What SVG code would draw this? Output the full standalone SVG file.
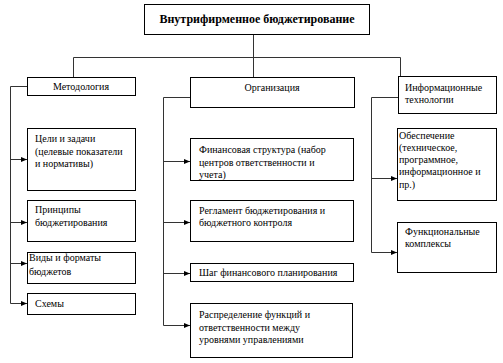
<svg xmlns="http://www.w3.org/2000/svg" width="503" height="363" viewBox="0 0 503 363">
<style>
.box{fill:#fff;stroke:#000;stroke-width:1}
.t{font-family:"Liberation Serif","Times New Roman",serif;font-size:10px;fill:#000}
.h{font-family:"Liberation Serif","Times New Roman",serif;font-size:12px;font-weight:bold;fill:#000}
.c{fill:none;stroke:#333;stroke-width:1}
</style>
<defs>
<marker id="ah" markerWidth="6" markerHeight="6" refX="6" refY="3" orient="auto" markerUnits="userSpaceOnUse">
<path d="M0,0.5 L6,3 L0,5.5 Z" fill="#000"/>
</marker>
</defs>
<g id="connectors">
<path class="c" d="M253.5,34 V57.5 M73.5,57.5 H400.5 M73.5,57.5 V77 M253.5,57.5 V77 M400.5,57.5 V76"/>
<path class="c" d="M27,86.5 H10.5 V303.5"/>
<path class="c" d="M10.5,159.5 H27" marker-end="url(#ah)"/>
<path class="c" d="M10.5,222.5 H27" marker-end="url(#ah)"/>
<path class="c" d="M10.5,263.5 H27" marker-end="url(#ah)"/>
<path class="c" d="M10.5,303.5 H27" marker-end="url(#ah)"/>
<path class="c" d="M190,97.5 H163.5 V325.5"/>
<path class="c" d="M163.5,161.5 H190" marker-end="url(#ah)"/>
<path class="c" d="M163.5,222.5 H190" marker-end="url(#ah)"/>
<path class="c" d="M163.5,273.5 H190" marker-end="url(#ah)"/>
<path class="c" d="M163.5,325.5 H190" marker-end="url(#ah)"/>
<path class="c" d="M398,97.5 H371.5 V252.5"/>
<path class="c" d="M371.5,178.5 H397" marker-end="url(#ah)"/>
<path class="c" d="M371.5,252.5 H397" marker-end="url(#ah)"/>
</g>
<g id="root">
<rect class="box" x="144.5" y="4.5" width="225" height="30"/>
<text class="h" x="257" y="23" text-anchor="middle">Внутрифирменное бюджетирование</text>
</g>
<g id="metodologiya">
<rect class="box" x="27.5" y="77.5" width="108" height="18"/>
<text class="t" x="81" y="90" text-anchor="middle">Методология</text>
</g>
<g id="organizaciya">
<rect class="box" x="190.5" y="77.5" width="164" height="30"/>
<text class="t" x="272" y="91" text-anchor="middle">Организация</text>
</g>
<g id="infotech">
<rect class="box" x="398.5" y="76.5" width="98" height="37"/>
<text class="t" x="405" y="91">Информационные</text>
<text class="t" x="405" y="103">технологии</text>
</g>
<g id="celi">
<rect class="box" x="27.5" y="128.5" width="108" height="62"/>
<text class="t" x="35" y="142">Цели и задачи</text>
<text class="t" x="35" y="155">(целевые показатели</text>
<text class="t" x="35" y="167">и нормативы)</text>
</g>
<g id="principy">
<rect class="box" x="27.5" y="200.5" width="108" height="41"/>
<text class="t" x="35" y="213">Принципы</text>
<text class="t" x="35" y="226">бюджетирования</text>
</g>
<g id="vidy">
<rect class="box" x="27.5" y="252.5" width="108" height="31"/>
<text class="t" x="29" y="261">Виды и форматы</text>
<text class="t" x="29" y="275">бюджетов</text>
</g>
<g id="shemy">
<rect class="box" x="27.5" y="293.5" width="108" height="21"/>
<text class="t" x="35" y="307">Схемы</text>
</g>
<g id="finstruktura">
<rect class="box" x="190.5" y="138.5" width="163" height="42"/>
<text class="t" x="199" y="153">Финансовая структура (набор</text>
<text class="t" x="199" y="166">центров ответственности и</text>
<text class="t" x="199" y="178">учета)</text>
</g>
<g id="reglament">
<rect class="box" x="190.5" y="200.5" width="163" height="41"/>
<text class="t" x="199" y="214">Регламент бюджетирования и</text>
<text class="t" x="199" y="226">бюджетного контроля</text>
</g>
<g id="shag">
<rect class="box" x="190.5" y="263.5" width="163" height="18"/>
<text class="t" x="199" y="276">Шаг финансового планирования</text>
</g>
<g id="raspredelenie">
<rect class="box" x="190.5" y="303.5" width="162" height="54"/>
<text class="t" x="199" y="318">Распределение функций и</text>
<text class="t" x="199" y="331">ответственности между</text>
<text class="t" x="199" y="343">уровнями управлениями</text>
</g>
<g id="obespechenie">
<rect class="box" x="397.5" y="128.5" width="99" height="72"/>
<text class="t" x="399" y="139">Обеспечение</text>
<text class="t" x="399" y="151">(техническое,</text>
<text class="t" x="399" y="163">программное,</text>
<text class="t" x="399" y="175">информационное и</text>
<text class="t" x="399" y="188">пр.)</text>
</g>
<g id="funkcionalnye">
<rect class="box" x="397.5" y="222.5" width="99" height="50"/>
<text class="t" x="405" y="235">Функциональные</text>
<text class="t" x="405" y="247">комплексы</text>
</g>
</svg>
